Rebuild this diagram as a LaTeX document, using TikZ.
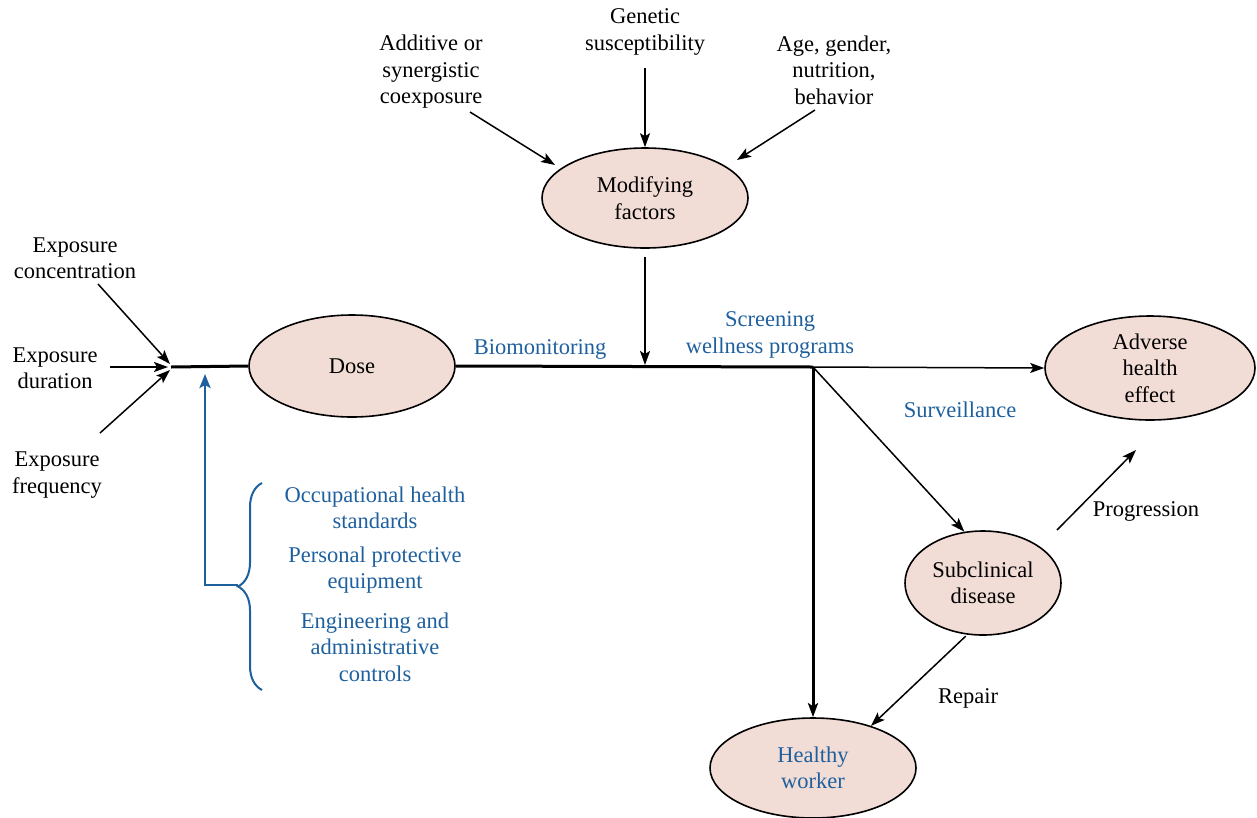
\documentclass[tikz,border=0pt]{standalone}
\usepackage{fontspec}
\setmainfont{Liberation Serif}
\usetikzlibrary{shapes.geometric,arrows.meta,decorations.pathreplacing}
\definecolor{fillpink}{RGB}{242,220,214}
\definecolor{textblue}{RGB}{30,96,158}

\begin{document}
\begin{tikzpicture}[x=1pt,y=-1pt,
  every node/.style={font=\fontsize{22.5}{26.5}\selectfont, align=center, inner sep=0pt},
  blob/.style={ellipse, draw, line width=1.6pt, fill=fillpink},
  tip/.style={-{Stealth[length=14pt,width=10pt,inset=3pt]}},
  arr/.style={tip, line width=1.5pt},
  thickline/.style={line width=3pt},
  bluetext/.style={text=textblue},
]
\path[use as bounding box] (0,0) rectangle (1257,817);

% ellipses
\node[blob, minimum width=206pt, minimum height=102pt] (dose) at (352,366) {Dose};
\node[blob, minimum width=206pt, minimum height=100pt] (mod) at (645,198) {Modifying\\factors};
\node[blob, minimum width=210pt, minimum height=104pt] (adv) at (1150,368) {Adverse\\health\\effect};
\node[blob, minimum width=156pt, minimum height=104pt] (sub) at (983,583) {Subclinical\\disease};
\node[blob, minimum width=206pt, minimum height=100pt, bluetext] (hw) at (813,768) {Healthy\\worker};

% exposure inputs
\node (conc) at (75,258) {Exposure\\concentration};
\node (dur) at (55,368) {Exposure\\duration};
\node (freq) at (57,475) {Exposure\\frequency};

% modifying inputs
\node (add) at (431,72) {Additive or\\synergistic\\coexposure};
\node (gen) at (645,32) {Genetic\\susceptibility};
\node (age) at (834,70) {Age, gender,\\nutrition,\\behavior};

% blue labels
\node[bluetext] (bio) at (540,349) {Biomonitoring};
\node[bluetext] (scr) at (770,335) {Screening\\wellness programs};
\node[bluetext] (surv) at (960,410) {Surveillance};
\node[bluetext] (ohs) at (375,508) {Occupational health\\standards};
\node[bluetext] (ppe) at (375,570) {Personal protective\\equipment};
\node[bluetext] (eng) at (375,647) {Engineering and\\administrative\\controls};

% black labels
\node (prog) at (1146,511) {Progression};
\node (rep) at (968,698) {Repair};

% junction points
\coordinate (junc) at (171,367);
\coordinate (split) at (813,367);
\coordinate (mj) at (645,365);
\coordinate (c1) at (98,284);
\coordinate (d1) at (110,367);
\coordinate (f1) at (100,433);
\coordinate (a1) at (470,112);
\coordinate (g1) at (645,68);
\coordinate (ag1) at (815,110);
\coordinate (pg1) at (1057,530);
\coordinate (pg2) at (1136,450);
\coordinate (ctrl) at (205,585);
\coordinate (ctrltop) at (205,374);
\coordinate (brtip) at (238,585);

% exposure arrows into the junction
\draw[arr] (c1) -- ([shift={(-1,-3)}]junc);
\draw[arr] (d1) -- ([shift={(-3,0)}]junc);
\draw[arr] (f1) -- ([shift={(-1,3)}]junc);

% main pathway
\draw[thickline] (junc) -- (dose.west);
\draw[thickline] (dose.east) -- (split);
\draw[arr] (split) -- (adv.west);
\draw[tip, line width=3pt] (split) -- (hw.north);
\draw[arr] (split) -- (sub.110);

% modifying factors
\draw[arr] (a1) -- (555,165);
\draw[arr] (g1) -- (mod.north);
\draw[arr] (ag1) -- (737,160);
\draw[arr] ([yshift=-8pt]mod.south) -- (mj);

% outcomes
\draw[arr] (pg1) -- (pg2);
\draw[arr, shorten <=2pt] (sub.-107) -- (hw.36);

% controls feeding back
\draw[textblue, line width=2.8pt, -{Stealth[length=14pt,width=11pt,inset=3pt]}] (brtip) -- (ctrl) -- (ctrltop);
\draw[textblue, line width=2pt, decorate, decoration={brace, amplitude=24pt}] (262,690) -- (262,483);
\end{tikzpicture}
\end{document}
